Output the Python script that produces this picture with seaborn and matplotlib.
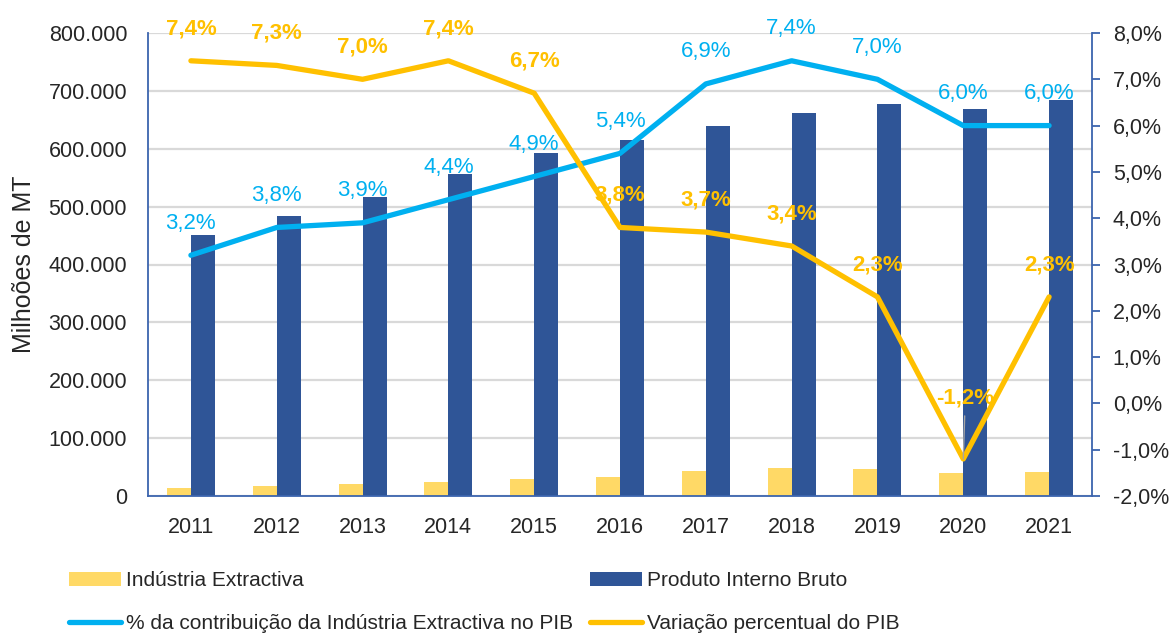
import numpy as np
import pandas as pd
import matplotlib
matplotlib.use("Agg")
import matplotlib.pyplot as plt
from matplotlib.ticker import FuncFormatter, MultipleLocator
import seaborn as sns

# --- data -----------------------------------------------------------------
years = ["2011", "2012", "2013", "2014", "2015", "2016",
         "2017", "2018", "2019", "2020", "2021"]
industria_extractiva = [14000, 17500, 20000, 24000, 29000, 33000,
                        44000, 48500, 47000, 40000, 41000]
pib = [451000, 484000, 517000, 556000, 593000, 615000,
       639000, 662000, 677000, 669000, 684000]
contrib_pct = [3.2, 3.8, 3.9, 4.4, 4.9, 5.4, 6.9, 7.4, 7.0, 6.0, 6.0]
variacao_pct = [7.4, 7.3, 7.0, 7.4, 6.7, 3.8, 3.7, 3.4, 2.3, -1.2, 2.3]

name_ie = "Indústria Extractiva"
name_pib = "Produto Interno Bruto"
name_contrib = "% da contribuição da Indústria Extractiva no PIB"
name_var = "Variação percentual do PIB"

# --- style ----------------------------------------------------------------
sns.set_theme(style="white")
plt.rcParams["font.family"] = ["Liberation Sans", "DejaVu Sans"]
FS = 15.5

C_IE = "#FFD966"
C_PIB = "#2F5597"
C_CONTRIB = "#00B0F0"
C_VAR = "#FFC000"
C_AXIS = "#3C64AE"
C_GRID = "#D9D9D9"

W, H = 1172, 635
fig = plt.figure(figsize=(W / 100, H / 100), dpi=100)
ax = fig.add_axes([148 / W, 1 - 496 / H, 944 / W, 463 / H])

bars = pd.DataFrame({
    "Ano": years * 2,
    "Série": [name_ie] * len(years) + [name_pib] * len(years),
    "Valor": industria_extractiva + pib,
})
sns.barplot(data=bars, x="Ano", y="Valor", hue="Série",
            hue_order=[name_ie, name_pib], palette=[C_IE, C_PIB],
            saturation=1, width=0.56, linewidth=0, ax=ax)
bar_handles, bar_labels = ax.get_legend_handles_labels()
if ax.legend_ is not None:
    ax.legend_.remove()

ax.set_xlim(-0.5, len(years) - 0.5)
ax.set_ylim(0, 800000)
ax.yaxis.set_major_locator(MultipleLocator(100000))
ax.yaxis.set_major_formatter(
    FuncFormatter(lambda v, _: f"{int(v):,}".replace(",", ".")))
ax.grid(axis="y", color=C_GRID, linewidth=1.6)
ax.grid(axis="x", visible=False)
ax.set_axisbelow(True)
ax.set_xlabel("")
ax.set_ylabel("Milhoões de MT", fontsize=18)
ax.yaxis.set_label_coords(-0.119, 0.5)
ax.tick_params(axis="y", length=0, pad=15, labelsize=FS)
ax.tick_params(axis="x", length=0, pad=15, labelsize=FS)
for side in ("top", "right"):
    ax.spines[side].set_visible(False)
for side in ("left", "bottom"):
    ax.spines[side].set_color(C_AXIS)
    ax.spines[side].set_linewidth(1.3)

# --- percentage lines on the secondary axis -------------------------------
ax2 = ax.twinx()
pos = np.arange(len(years))
sns.lineplot(x=pos, y=contrib_pct, color=C_CONTRIB, linewidth=3.8,
             label=name_contrib, ax=ax2, solid_capstyle="round",
             solid_joinstyle="round")
sns.lineplot(x=pos, y=variacao_pct, color=C_VAR, linewidth=3.8,
             label=name_var, ax=ax2, solid_capstyle="round",
             solid_joinstyle="round")
line_handles, line_labels = ax2.get_legend_handles_labels()
if ax2.legend_ is not None:
    ax2.legend_.remove()

ax2.set_xlim(-0.5, len(years) - 0.5)
ax2.set_ylim(-2, 8)
ax2.yaxis.set_major_locator(MultipleLocator(1))
ax2.yaxis.set_major_formatter(
    FuncFormatter(lambda v, _: f"{v:.1f}%".replace(".", ",")))
ax2.tick_params(axis="y", length=6, width=1.3, color=C_AXIS, pad=9,
                labelsize=FS)
ax2.grid(False)
for side in ("top", "left", "bottom"):
    ax2.spines[side].set_visible(False)
ax2.spines["right"].set_color(C_AXIS)
ax2.spines["right"].set_linewidth(1.3)


def pct(v):
    return f"{v:.1f}%".replace(".", ",")


for i, v in enumerate(contrib_pct):
    ax2.annotate(pct(v), xy=(i, v), xytext=(0, 32), textcoords="offset pixels",
                 ha="center", va="center", color=C_CONTRIB, fontsize=16)

for i, v in enumerate(variacao_pct):
    if v < 0:
        ax2.annotate(pct(v), xy=(i, v), xytext=(2, 61),
                     textcoords="offset pixels", ha="center", va="center",
                     color=C_VAR, fontsize=16, fontweight="bold",
                     arrowprops=dict(arrowstyle="-", color="#A6A6A6", lw=1,
                                     shrinkA=3, shrinkB=0))
    else:
        ax2.annotate(pct(v), xy=(i, v), xytext=(0, 32),
                     textcoords="offset pixels", ha="center", va="center",
                     color=C_VAR, fontsize=16, fontweight="bold")

# --- legend: bars on the first row, lines on the second -------------------
handles = [bar_handles[0], line_handles[0], bar_handles[1], line_handles[1]]
labels = [bar_labels[0], line_labels[0], bar_labels[1], line_labels[1]]
fig.legend(handles, labels, ncol=2, loc="lower left",
           bbox_to_anchor=(54 / W, -0.02), frameon=False, fontsize=15,
           handlelength=2.5, handleheight=0.62, handletextpad=0.25,
           columnspacing=0.8, labelspacing=1.15, borderpad=0.2)

fig.savefig("out.png", dpi=100)
